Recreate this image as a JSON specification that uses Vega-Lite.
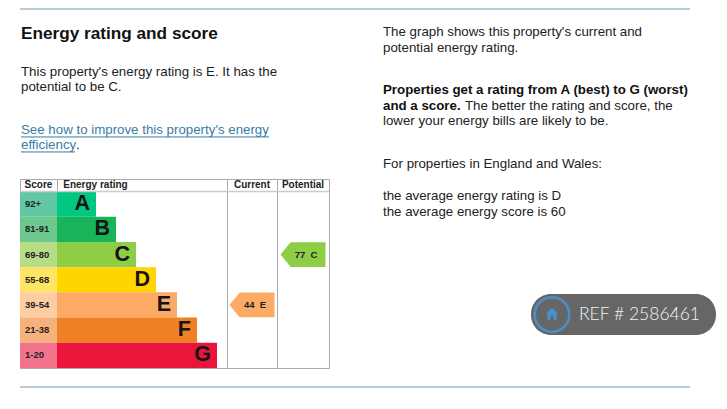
{
"$schema":"https://vega.github.io/schema/vega-lite/v6.json",
"padding":{"left":18,"top":8,"right":11,"bottom":22},
"background":"white",
"spacing":0,
"config":{"view":{"stroke":null},"font":"Liberation Sans","concat":{"spacing":0}},
"datasets":{
"ratings":[
{"rating":"A","range":"92+","length":39,"start":0},
{"rating":"B","range":"81-91","length":59,"start":0},
{"rating":"C","range":"69-80","length":79,"start":0},
{"rating":"D","range":"55-68","length":99,"start":0},
{"rating":"E","range":"39-54","length":120,"start":0},
{"rating":"F","range":"21-38","length":140,"start":0},
{"rating":"G","range":"1-20","length":160,"start":0}],
"header":[{"rating":"A"}],
"leftText":[
{"line":1.47,"text":"Energy rating and score","kind":"heading","start":0},
{"line":4,"text":"This property's energy rating is E. It has the","kind":"body","start":0},
{"line":5,"text":"potential to be C.","kind":"body","start":0},
{"line":7.87,"text":"See how to improve this property's energy","kind":"link","start":0,"underline":248},
{"line":8.87,"text":"efficiency","kind":"link","start":0,"underline":54},
{"line":8.87,"text":".","kind":"after","start":0}],
"rightText":[
{"line":1.28,"text":"The graph shows this property's current and","kind":"body","start":0},
{"line":2.31,"text":"potential energy rating.","kind":"body","start":0},
{"line":5,"text":"Properties get a rating from A (best) to G (worst)","kind":"bold","start":0},
{"line":6.03,"text":"and a score.","kind":"bold","start":0},
{"line":6.03,"text":"The better the rating and score, the","kind":"after","start":0},
{"line":6.99,"text":"lower your energy bills are likely to be.","kind":"body","start":0},
{"line":9.74,"text":"For properties in England and Wales:","kind":"body","start":0},
{"line":11.79,"text":"the average energy rating is D","kind":"body","start":0},
{"line":12.82,"text":"the average energy score is 60","kind":"body","start":0}],
"current":[{"rating":"E","score":44,"label":"44\u00a0\u00a0E"}],
"potential":[{"rating":"C","score":77,"label":"77\u00a0\u00a0C"}],
"badge":[{"label":"REF # 2586461","start":0,"end":185,"icon":21,"text":48}]
},
"vconcat":[
{"width":670,"height":1,"data":{"values":[{"v":1}]},"mark":{"type":"rule","color":"#7398ae","strokeWidth":1.2},"encoding":{"y":{"field":"v","type":"quantitative","axis":null,"scale":{"domain":[0,1]}}}},
{"hconcat":[
{"vconcat":[
{"width":363,"height":169,"data":{"name":"leftText"},
"layer":[
{"transform":[{"filter":"datum.kind==='heading'"}],"mark":{"type":"text","align":"left","baseline":"middle","fontSize":17.2,"fontWeight":"bold","color":"#111"},"encoding":{"text":{"field":"text"}}},
{"transform":[{"filter":"datum.kind==='body'"}],"mark":{"type":"text","align":"left","baseline":"middle","fontSize":13.3,"color":"#222"},"encoding":{"text":{"field":"text"}}},
{"transform":[{"filter":"datum.kind==='link'"}],"mark":{"type":"text","align":"left","baseline":"middle","fontSize":13.3,"color":"#3a7ba6"},"encoding":{"text":{"field":"text"}}},
{"transform":[{"filter":"datum.kind==='after'"}],"mark":{"type":"text","align":"left","baseline":"middle","fontSize":13.3,"color":"#111","dx":55},"encoding":{"text":{"field":"text"}}},
{"transform":[{"filter":"datum.kind==='link'"}],"mark":{"type":"rule","color":"#3a7ba6","strokeWidth":1,"yOffset":7},"encoding":{"x2":{"field":"underline"}}}
],
"encoding":{
"x":{"field":"start","type":"quantitative","scale":{"domain":[0,363],"range":[1,364]},"axis":null},
"y":{"field":"line","type":"quantitative","scale":{"domain":[-0.13,11.14],"reverse":true,"nice":false,"zero":false},"axis":null}}
},
{"spacing":0,"bounds":"flush","resolve":{"scale":{"color":"independent"}},"hconcat":[
{"width":37,"height":189,"data":{"name":"ratings"},
"title":{"text":"Score","fontSize":10,"fontWeight":"bold","color":"#222","offset":-11,"anchor":"middle"},
"view":{"stroke":"#aaa"},
"layer":[
{"mark":{"type":"rect"},"encoding":{"color":{"field":"rating","type":"nominal","legend":null,"scale":{"domain":["A","B","C","D","E","F","G"],"range":["#62c8a4","#6cc88d","#b6dd86","#ffe566","#fdcca3","#f6b27a","#f2738b"]}}}},
{"mark":{"type":"text","align":"left","baseline":"middle","fontSize":9.5,"fontWeight":"bold","color":"#222","dx":5},"encoding":{"text":{"field":"range"},"x":{"field":"start","type":"quantitative","scale":{"domain":[0,37]},"axis":null}}},
{"data":{"name":"header"},"mark":{"type":"rule","color":"#ccc","strokeWidth":1.5},"encoding":{"y":{"field":"rating","type":"nominal","bandPosition":0,"axis":null}}}
],
"encoding":{"y":{"field":"rating","type":"nominal","axis":null,"scale":{"domain":["A","B","C","D","E","F","G"],"range":[12.5,189],"paddingInner":0,"paddingOuter":0}}}
},
{"width":170,"height":189,"data":{"name":"ratings"},
"title":{"text":"Energy rating","fontSize":10,"fontWeight":"bold","color":"#222","offset":-11,"anchor":"start","dx":7},
"view":{"stroke":"#aaa"},
"layer":[
{"mark":{"type":"bar"},"encoding":{"x":{"field":"length","type":"quantitative","axis":null,"scale":{"domain":[0,170],"nice":false}},"color":{"field":"rating","type":"nominal","legend":null,"scale":{"domain":["A","B","C","D","E","F","G"],"range":["#00c781","#19b459","#8dce46","#ffd500","#fcaa65","#ef8023","#e9153b"]}}}},
{"mark":{"type":"text","align":"right","baseline":"middle","fontSize":21.5,"fontWeight":"bold","color":"#141414","dx":-6},"encoding":{"text":{"field":"rating"},"x":{"field":"length","type":"quantitative","axis":null,"scale":{"domain":[0,170],"nice":false}}}},
{"data":{"name":"header"},"mark":{"type":"rule","color":"#ccc","strokeWidth":1.5},"encoding":{"y":{"field":"rating","type":"nominal","bandPosition":0,"axis":null}}}
],
"encoding":{"y":{"field":"rating","type":"nominal","axis":null,"scale":{"domain":["A","B","C","D","E","F","G"],"range":[12.5,189],"paddingInner":0,"paddingOuter":0}}}
},
{"width":50,"height":189,"data":{"name":"current"},
"title":{"text":"Current","fontSize":10,"fontWeight":"bold","color":"#222","offset":-11,"anchor":"middle"},
"view":{"stroke":"#aaa"},
"layer":[
{"mark":{"type":"point","filled":true,"opacity":1,"size":2025,"color":"#fcaa65","strokeWidth":0,"shape":"M-1 0L-0.55 -0.55L1 -0.55L1 0.55L-0.55 0.55Z"}},
{"mark":{"type":"text","baseline":"middle","fontSize":9.5,"fontWeight":"bold","color":"#222","dx":3},"encoding":{"text":{"field":"label"}}},
{"data":{"name":"header"},"mark":{"type":"rule","color":"#ccc","strokeWidth":1.5},"encoding":{"y":{"field":"rating","type":"nominal","bandPosition":0,"axis":null}}}
],
"encoding":{"y":{"field":"rating","type":"nominal","axis":null,"scale":{"domain":["A","B","C","D","E","F","G"],"range":[12.5,189],"paddingInner":0,"paddingOuter":0}}}
},
{"width":52,"height":189,"data":{"name":"potential"},
"title":{"text":"Potential","fontSize":10,"fontWeight":"bold","color":"#222","offset":-11,"anchor":"middle"},
"view":{"stroke":"#aaa"},
"layer":[
{"mark":{"type":"point","filled":true,"opacity":1,"size":2025,"color":"#8dce46","strokeWidth":0,"shape":"M-1 0L-0.55 -0.55L1 -0.55L1 0.55L-0.55 0.55Z"}},
{"mark":{"type":"text","baseline":"middle","fontSize":9.5,"fontWeight":"bold","color":"#222","dx":3},"encoding":{"text":{"field":"label"}}},
{"data":{"name":"header"},"mark":{"type":"rule","color":"#ccc","strokeWidth":1.5},"encoding":{"y":{"field":"rating","type":"nominal","bandPosition":0,"axis":null}}}
],
"encoding":{"y":{"field":"rating","type":"nominal","axis":null,"scale":{"domain":["A","B","C","D","E","F","G"],"range":[12.5,189],"paddingInner":0,"paddingOuter":0}}}
}
]}
],"spacing":0,"bounds":"flush"},
{"vconcat":[
{"width":333,"height":284,"data":{"name":"rightText"},
"layer":[
{"transform":[{"filter":"datum.kind==='body'"}],"mark":{"type":"text","align":"left","baseline":"middle","fontSize":13.3,"color":"#222"}},
{"transform":[{"filter":"datum.kind==='bold'"}],"mark":{"type":"text","align":"left","baseline":"middle","fontSize":13.3,"fontWeight":"bold","color":"#111"}},
{"transform":[{"filter":"datum.kind==='after'"}],"mark":{"type":"text","align":"left","baseline":"middle","fontSize":13.3,"color":"#222","dx":82}}
],
"encoding":{
"x":{"field":"start","type":"quantitative","scale":{"domain":[0,333]},"axis":null},
"y":{"field":"line","type":"quantitative","scale":{"domain":[-0.13,18.07],"reverse":true,"nice":false,"zero":false},"axis":null},
"text":{"field":"text"}}
},
{"width":333,"height":41,"data":{"name":"badge"},
"layer":[
{"mark":{"type":"rect","color":"#666666","cornerRadius":20},"encoding":{"x":{"field":"start","type":"quantitative","scale":{"domain":[0,185],"range":[148,333],"nice":false},"axis":null},"x2":{"field":"end"}}},
{"mark":{"type":"point","filled":false,"opacity":1,"size":1200,"color":"#4a8fc8","strokeWidth":2.5},"encoding":{"x":{"field":"icon","type":"quantitative"}}},
{"mark":{"type":"point","filled":true,"opacity":1,"size":180,"color":"#4a8fc8","strokeWidth":0,"shape":"M0 -1L1 -0.1L0.7 -0.1L0.7 0.8L0.2 0.8L0.2 0.2L-0.2 0.2L-0.2 0.8L-0.7 0.8L-0.7 -0.1L-1 -0.1Z"},"encoding":{"x":{"field":"icon","type":"quantitative"}}},
{"mark":{"type":"text","align":"left","baseline":"middle","font":"Lato","fontWeight":300,"fontSize":17.5,"color":"#f2f2f2"},"encoding":{"x":{"field":"text","type":"quantitative"},"text":{"field":"label"}}}
]
}
],"spacing":0,"bounds":"flush"}
],"spacing":0},
{"width":670,"height":18,"data":{"values":[{"v":0}]},"mark":{"type":"rule","color":"#7398ae","strokeWidth":1.2},"encoding":{"y":{"field":"v","type":"quantitative","axis":null,"scale":{"domain":[0,1]}}}}
]
}
